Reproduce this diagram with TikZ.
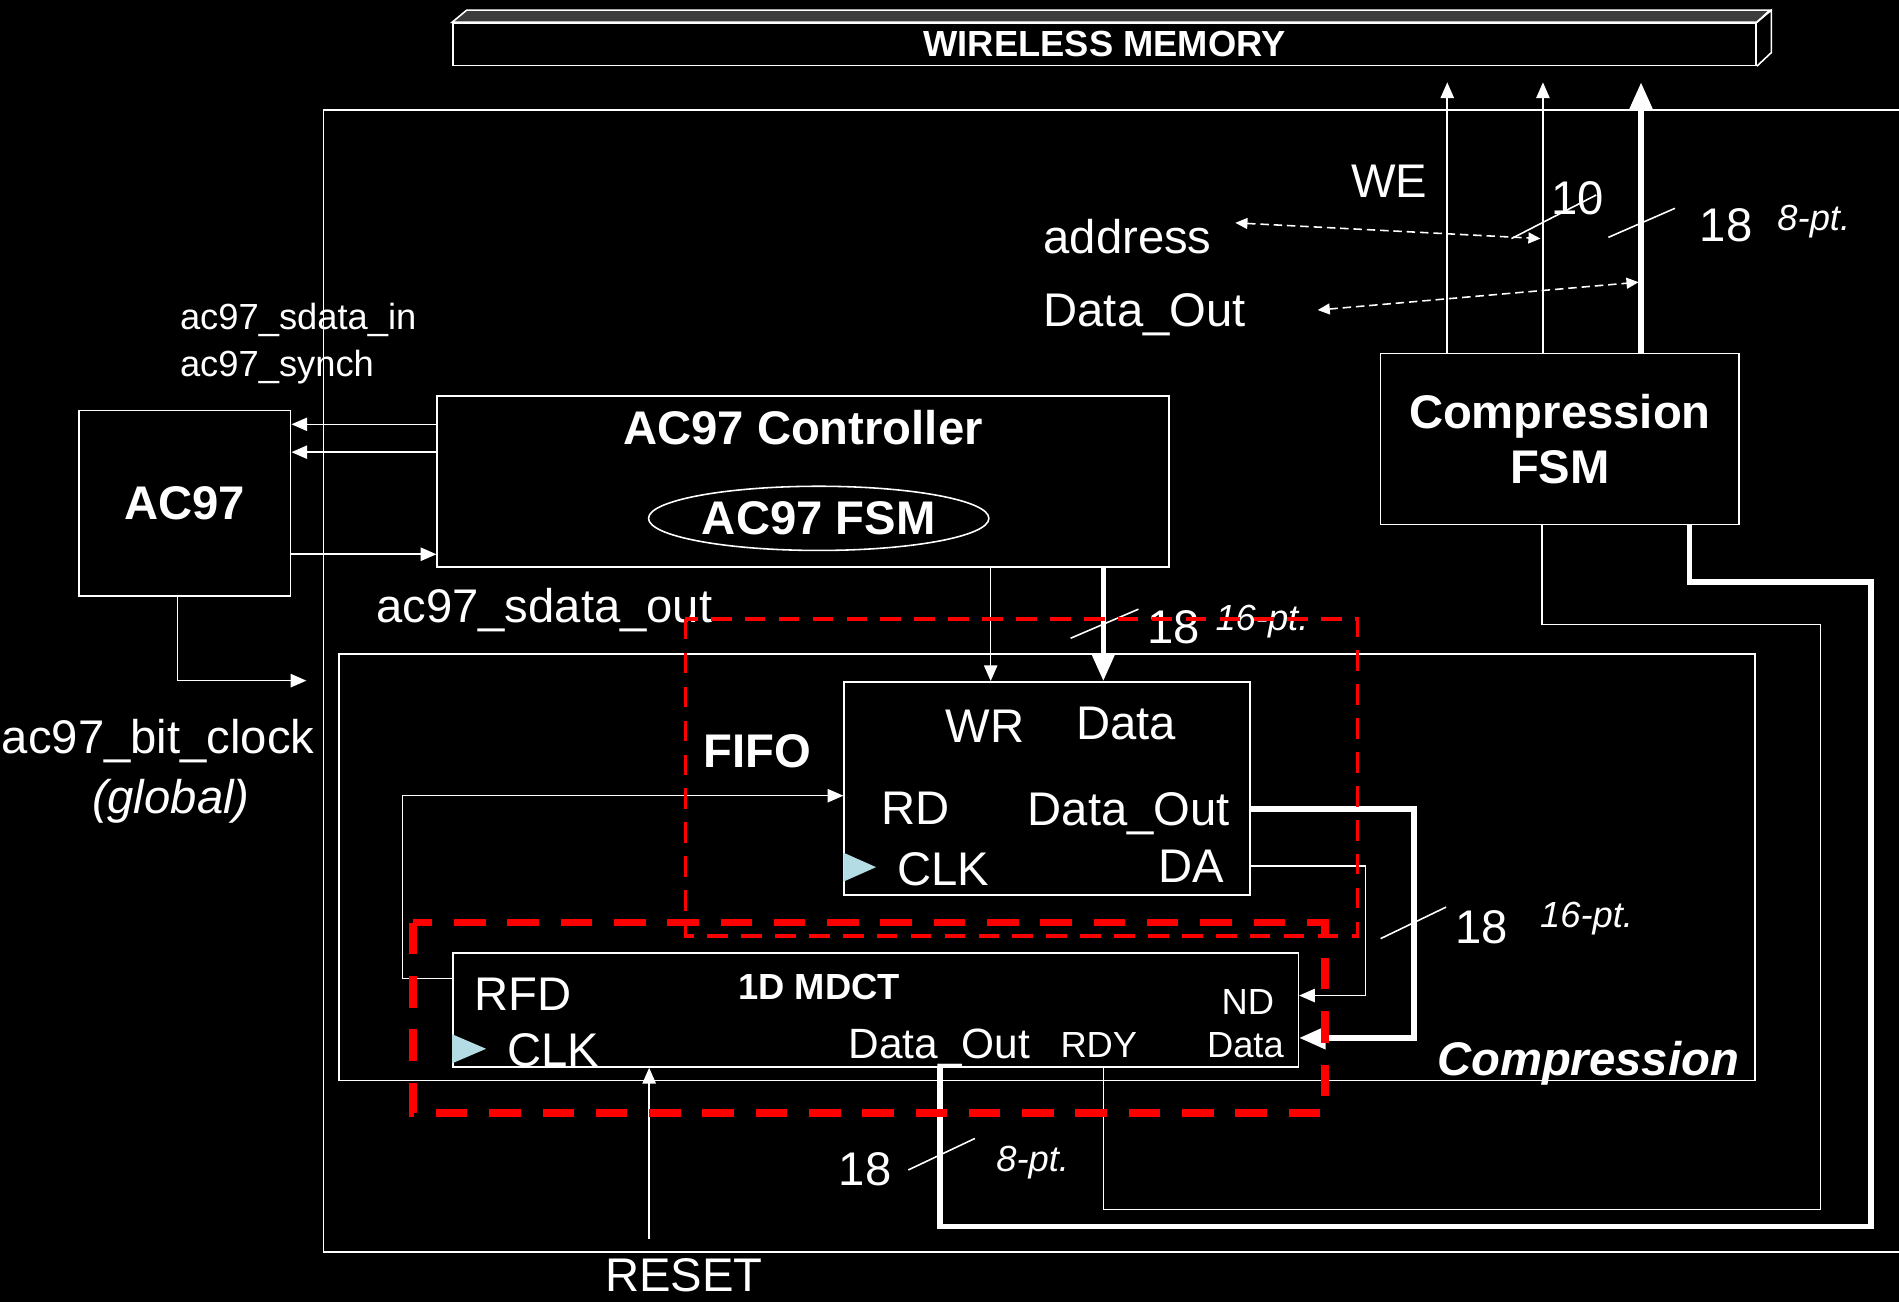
\documentclass[tikz,border=0pt]{standalone}
\usepackage{fontspec}
\setmainfont{Liberation Sans}
\usepackage{xcolor}
\definecolor{memGray}{HTML}{3C3C3C}
\definecolor{clkBlue}{HTML}{B4DCE4}
\definecolor{fpgaRed}{HTML}{FF0000}
\usepackage{tikz}
\usetikzlibrary{calc,arrows.meta,shapes.geometric}

\tikzset{
  box/.style={draw, line width=1.3pt, inner sep=0pt},
  bus/.style={line width=4.5pt},
  busTip/.style={-{Triangle[length=22pt,width=18pt]}},
  dashArrow/.style={{Triangle[length=10pt,width=9pt]}-{Triangle[length=10pt,width=9pt]}, dash pattern=on 7pt off 4pt},
  txtBig/.style={font=\fontsize{39}{46}\selectfont, inner sep=0pt},
  txtBold/.style={font=\fontsize{39}{46}\selectfont\bfseries, inner sep=0pt},
  txtMid/.style={font=\fontsize{35}{40}\selectfont, inner sep=0pt},
  txtSmall/.style={font=\fontsize{30}{34}\selectfont, inner sep=0pt},
  fifoEdge/.style={fpgaRed, line width=3pt, dash pattern=on 17pt off 11pt},
  mdctEdge/.style={fpgaRed, line width=6pt, dash pattern=on 26pt off 18pt},
}

\begin{document}
\begin{tikzpicture}[x=1pt, y=-1pt, white, line width=1.3pt,
  >={Triangle[length=13pt,width=11pt]}]
  \useasboundingbox (0,0) rectangle (1568,1075);
  \fill[black] (0,0) rectangle (1568,1075);
  % ------- wireless memory bar -------
  \node[box, minimum width=1076pt, minimum height=35pt, font=\fontsize{30}{34}\selectfont\bfseries] (mem) at (912,36.5) {WIRELESS MEMORY};
  \filldraw[fill=memGray] (mem.north west) -- ++(12,-10) -- ++(1076,0) -- (mem.north east) -- cycle;
  \draw (mem.north east) -- ++(12,-10) -- ++(0,35) -- (mem.south east);
  % ------- FPGA outline -------
  \draw (1568,91) -- (267,91) -- (267,1034) -- (1568,1034);
  % ------- blocks -------
  \node[box, txtBold, minimum width=175pt, minimum height=153pt] (ac97) at (152.5,415.5) {AC97};
  \node[box, minimum width=604pt, minimum height=141pt] (ctrl) at (663,397.5) {};
  \node[txtBold, anchor=base] (ctrlTitle) at (663,367) {AC97 Controller};
  \node[draw, ellipse, line width=1.3pt, txtBold, minimum width=281pt, minimum height=53pt] (ac97Fsm) at (676,428) {AC97 FSM};
  \node[box, txtBold, align=center, minimum width=296pt, minimum height=141pt] (cfsm) at (1288,362.5) {Compression\\FSM};
  \node[box, minimum width=1169pt, minimum height=352pt] (comp) at (864.5,716) {};
  \node[txtBold, anchor=base west] (compTitle) at (1186,888) {\itshape Compression};
  \node[box, minimum width=335pt, minimum height=176pt] (fifo) at (864.5,651) {};
  \node[box, minimum width=698pt, minimum height=94pt] (mdct) at (723,834) {};
  \fill[clkBlue] ([yshift=-53pt]fifo.west) -- ++(27,12) -- ++(-27,12) -- cycle;
  \fill[clkBlue] ([yshift=-20pt]mdct.west) -- ++(28,12) -- ++(-28,12) -- cycle;
  % ------- labels -------
  \node[txtBold, anchor=base west] (fifoTitle) at (580,634) {FIFO};
  \node[txtBig, anchor=base west] (wrLbl) at (780,613) {WR};
  \node[txtBig, anchor=base west] (dataLbl) at (888,611) {Data};
  \node[txtBig, anchor=base west] (rdLbl) at (727,681) {RD};
  \node[txtBig, anchor=base west] (doLbl) at (848,682) {Data\_Out};
  \node[txtBig, anchor=base west] (clkLbl) at (740,731) {CLK};
  \node[txtBig, anchor=base west] (daLbl) at (956,729) {DA};
  \node[txtBig, anchor=base west] (rfdLbl) at (391,834) {RFD};
  \node[txtSmall, anchor=base west, font=\fontsize{30}{34}\selectfont\bfseries] (mdctTitle) at (609,825) {1D MDCT};
  \node[txtSmall, anchor=base west] (ndLbl) at (1008,838) {ND};
  \node[txtSmall, anchor=base west] (ndData) at (996,873) {Data};
  \node[txtBig, anchor=base west] (mclkLbl) at (418,881) {CLK};
  \node[txtMid, anchor=base west] (mdoLbl) at (700,874) {Data\_Out};
  \node[txtSmall, anchor=base west] (rdyLbl) at (875,873) {RDY};
  \node[txtSmall, anchor=base west] (sdinLbl) at (148,272) {ac97\_sdata\_in};
  \node[txtSmall, anchor=base west] (synLbl) at (148,311) {ac97\_synch};
  \node[txtBig, anchor=base west] (sdoutLbl) at (310,514) {ac97\_sdata\_out};
  \node[txtBig, anchor=base west] (bclkLbl) at (1,622) {ac97\_bit\_clock};
  \node[txtBig, anchor=base] (globLbl) at (141,672) {\itshape (global)};
  \node[txtBig, anchor=base] (weLbl) at (1147,163) {WE};
  \node[txtBig, anchor=base west] (adrLbl) at (861,209) {address};
  \node[txtBig, anchor=base west] (memDoLbl) at (861,270) {Data\_Out};
  \node[txtBig, anchor=base west] (rstLbl) at (499,1066) {RESET};
  % ------- bus widths -------
  \node[txtBig, anchor=base west] (w10) at (1280,177) {10};
  \node[txtBig, anchor=base west] (w18a) at (1403,199) {18};
  \node[txtSmall, anchor=base west] (p8a) at (1467,190) {\itshape 8-pt.};
  \node[txtBig, anchor=base west] (w18b) at (947,531) {18};
  \node[txtSmall, anchor=base west] (p16b) at (1003,521) {\itshape 16-pt.};
  \node[txtBig, anchor=base west] (w18c) at (1201,779) {18};
  \node[txtSmall, anchor=base west] (p16c) at (1271,766) {\itshape 16-pt.};
  \node[txtBig, anchor=base west] (w18d) at (692,979) {18};
  \node[txtSmall, anchor=base west] (p8d) at (822,967) {\itshape 8-pt.};
  \draw (1248,197) -- (1318,161);
  \draw (1328,196) -- (1383,172);
  \draw (884,527) -- (940,503);
  \draw (1140,775) -- (1194,749);
  \draw (750,966) -- (805,940);
  % ------- AC97 signals -------
  \coordinate (sIn) at ([yshift=-24pt]ctrl.north west);
  \coordinate (sSyn) at ([yshift=-47pt]ctrl.north west);
  \coordinate (sOut) at ([yshift=11pt]ctrl.south west);
  \coordinate (bitClk) at (253,562);
  \draw[->] (sIn) -- (sIn -| ac97.east);
  \draw[->] (sSyn) -- (sSyn -| ac97.east);
  \draw[->] (sOut -| ac97.east) -- (sOut);
  \draw[->] ([xshift=-6pt]ac97.south) |- (bitClk);
  % ------- memory interface -------
  \coordinate (we) at (1195,68);
  \coordinate (adr) at (1274,68);
  \coordinate (dat) at (1355,68);
  \draw[->] (we |- cfsm.north) -- (we);
  \draw[->] (adr |- cfsm.north) -- (adr);
  \draw[bus, busTip] (dat |- cfsm.north) -- (dat);
  \coordinate (adrL) at (1020,184);
  \coordinate (adrR) at (1272,197);
  \coordinate (datL) at (1088,256);
  \coordinate (datR) at (1353,233);
  \draw[dashArrow] (adrL) -- (adrR);
  \draw[dashArrow] (datL) -- (datR);
  % ------- controller -> FIFO -> MDCT -------
  \coordinate (wrx) at (818,0);
  \coordinate (dx) at (911,0);
  \draw[->] (wrx |- ctrl.south) -- (wrx |- fifo.north);
  \draw[bus, busTip] (dx |- ctrl.south) -- (dx |- fifo.north);
  \draw[->] ([yshift=26pt]mdct.west) -- ++(-41,0) |- ([yshift=-6pt]fifo.west);
  \draw[->] ([yshift=-64pt]fifo.east) -- ++(95,0) |- ([yshift=12pt]mdct.east);
  \draw[bus, busTip] ([yshift=-17pt]fifo.east) -- ++(135,0) |- ([yshift=-23pt]mdct.east);
  \coordinate (rst) at (536,1023);
  \draw[->] (rst) -- (rst |- mdct.south);
  % ------- MDCT -> compression FSM -------
  \draw[bus] ([xshift=53pt]mdct.south) -- ++(0,131) -| ++(769,-532) -| ([xshift=107pt]cfsm.south);
  \draw ([xshift=188pt]mdct.south) -- ++(0,117) -| ++(592,-483) -| ([xshift=-15pt]cfsm.south);
  % ------- partition outlines -------
  \draw[fifoEdge] (566,511) rectangle (1121,773);
  \draw[mdctEdge] (341,762) rectangle (1094,919);
\end{tikzpicture}
\end{document}
